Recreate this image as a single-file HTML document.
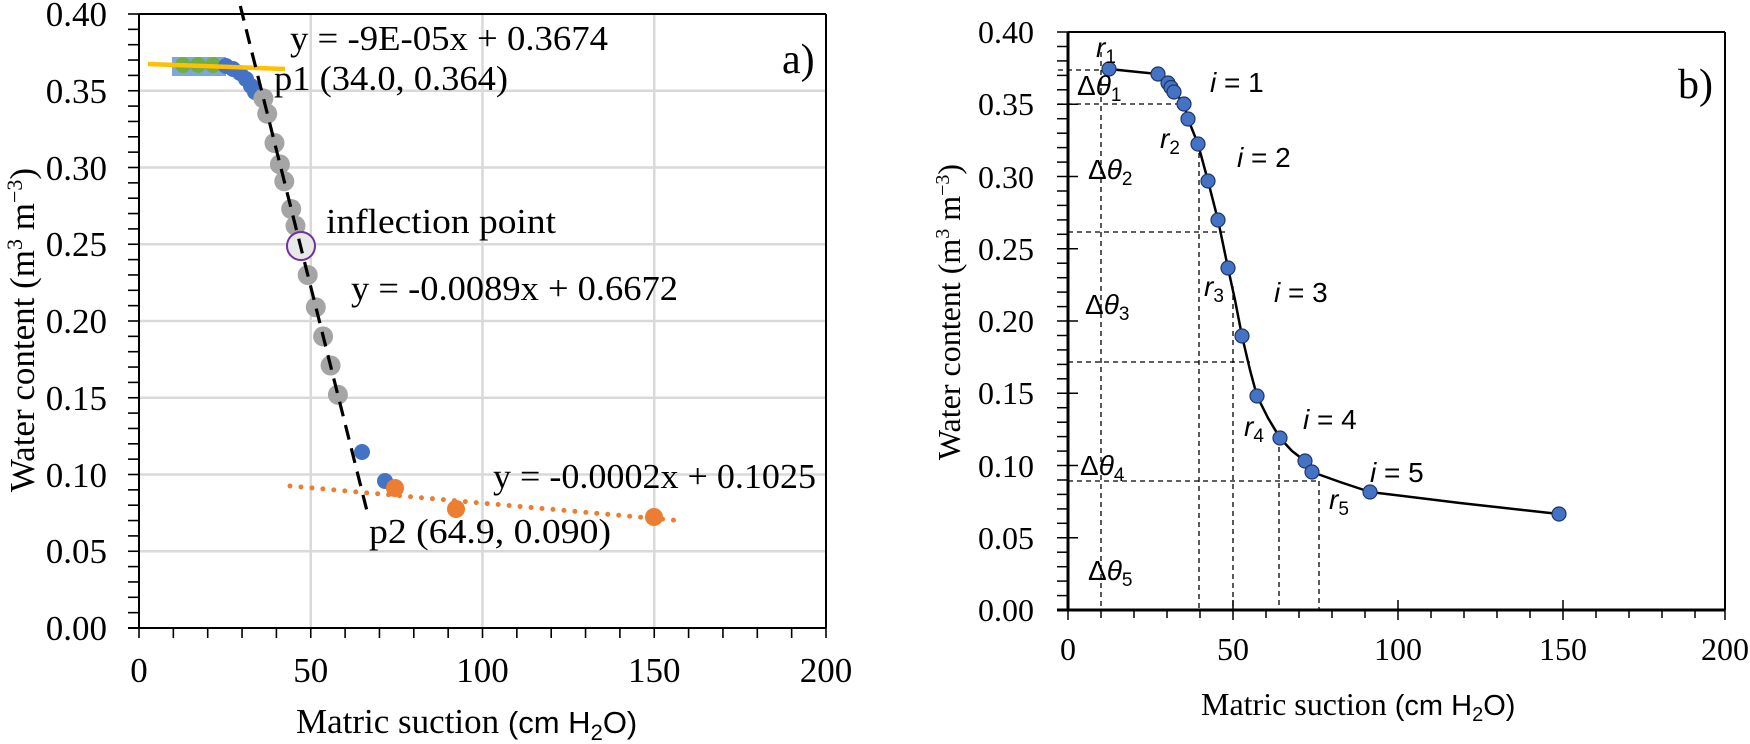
<!DOCTYPE html>
<html><head><meta charset="utf-8"><style>
html,body{margin:0;padding:0;background:#fff;}
svg{display:block;}
.s{font-family:"Liberation Serif",serif;fill:#000;}
.ss{font-family:"Liberation Sans",sans-serif;fill:#000;}
</style></head><body>
<svg width="1750" height="744" viewBox="0 0 1750 744" xmlns="http://www.w3.org/2000/svg">
<rect width="1750" height="744" fill="#fff"/>
<!-- ============ PANEL A ============ -->
<g stroke="#d9d9d9" stroke-width="2.5">
  <line x1="310.75" y1="14" x2="310.75" y2="628"/>
  <line x1="482.5" y1="14" x2="482.5" y2="628"/>
  <line x1="654.25" y1="14" x2="654.25" y2="628"/>
  <line x1="139" y1="90.75" x2="826" y2="90.75"/>
  <line x1="139" y1="167.5" x2="826" y2="167.5"/>
  <line x1="139" y1="244.25" x2="826" y2="244.25"/>
  <line x1="139" y1="321" x2="826" y2="321"/>
  <line x1="139" y1="397.75" x2="826" y2="397.75"/>
  <line x1="139" y1="474.5" x2="826" y2="474.5"/>
  <line x1="139" y1="551.25" x2="826" y2="551.25"/>
</g>
<g stroke="#000" stroke-width="2" fill="none">
  <line x1="139" y1="14" x2="826" y2="14"/>
  <line x1="826" y1="14" x2="826" y2="628"/>
  <line x1="139" y1="14" x2="139" y2="628"/>
  <line x1="128" y1="628" x2="826" y2="628"/>
</g>
<g stroke="#000" stroke-width="1.6">
  <line x1="128" y1="14" x2="139" y2="14"/><line x1="128" y1="29.35" x2="139" y2="29.35"/><line x1="128" y1="44.7" x2="139" y2="44.7"/><line x1="128" y1="60.05" x2="139" y2="60.05"/><line x1="128" y1="75.4" x2="139" y2="75.4"/>
  <line x1="128" y1="90.75" x2="139" y2="90.75"/><line x1="128" y1="106.1" x2="139" y2="106.1"/><line x1="128" y1="121.45" x2="139" y2="121.45"/><line x1="128" y1="136.8" x2="139" y2="136.8"/><line x1="128" y1="152.15" x2="139" y2="152.15"/>
  <line x1="128" y1="167.5" x2="139" y2="167.5"/><line x1="128" y1="182.85" x2="139" y2="182.85"/><line x1="128" y1="198.2" x2="139" y2="198.2"/><line x1="128" y1="213.55" x2="139" y2="213.55"/><line x1="128" y1="228.9" x2="139" y2="228.9"/>
  <line x1="128" y1="244.25" x2="139" y2="244.25"/><line x1="128" y1="259.6" x2="139" y2="259.6"/><line x1="128" y1="274.95" x2="139" y2="274.95"/><line x1="128" y1="290.3" x2="139" y2="290.3"/><line x1="128" y1="305.65" x2="139" y2="305.65"/>
  <line x1="128" y1="321" x2="139" y2="321"/><line x1="128" y1="336.35" x2="139" y2="336.35"/><line x1="128" y1="351.7" x2="139" y2="351.7"/><line x1="128" y1="367.05" x2="139" y2="367.05"/><line x1="128" y1="382.4" x2="139" y2="382.4"/>
  <line x1="128" y1="397.75" x2="139" y2="397.75"/><line x1="128" y1="413.1" x2="139" y2="413.1"/><line x1="128" y1="428.45" x2="139" y2="428.45"/><line x1="128" y1="443.8" x2="139" y2="443.8"/><line x1="128" y1="459.15" x2="139" y2="459.15"/>
  <line x1="128" y1="474.5" x2="139" y2="474.5"/><line x1="128" y1="489.85" x2="139" y2="489.85"/><line x1="128" y1="505.2" x2="139" y2="505.2"/><line x1="128" y1="520.55" x2="139" y2="520.55"/><line x1="128" y1="535.9" x2="139" y2="535.9"/>
  <line x1="128" y1="551.25" x2="139" y2="551.25"/><line x1="128" y1="566.6" x2="139" y2="566.6"/><line x1="128" y1="581.95" x2="139" y2="581.95"/><line x1="128" y1="597.3" x2="139" y2="597.3"/><line x1="128" y1="612.65" x2="139" y2="612.65"/>
</g>
<g stroke="#000" stroke-width="1.6">
  <line x1="139" y1="628" x2="139" y2="638"/><line x1="173.35" y1="628" x2="173.35" y2="638"/><line x1="207.7" y1="628" x2="207.7" y2="638"/><line x1="242.05" y1="628" x2="242.05" y2="638"/><line x1="276.4" y1="628" x2="276.4" y2="638"/>
  <line x1="310.75" y1="628" x2="310.75" y2="638"/><line x1="345.1" y1="628" x2="345.1" y2="638"/><line x1="379.45" y1="628" x2="379.45" y2="638"/><line x1="413.8" y1="628" x2="413.8" y2="638"/><line x1="448.15" y1="628" x2="448.15" y2="638"/>
  <line x1="482.5" y1="628" x2="482.5" y2="638"/><line x1="516.85" y1="628" x2="516.85" y2="638"/><line x1="551.2" y1="628" x2="551.2" y2="638"/><line x1="585.55" y1="628" x2="585.55" y2="638"/><line x1="619.9" y1="628" x2="619.9" y2="638"/>
  <line x1="654.25" y1="628" x2="654.25" y2="638"/><line x1="688.6" y1="628" x2="688.6" y2="638"/><line x1="722.95" y1="628" x2="722.95" y2="638"/><line x1="757.3" y1="628" x2="757.3" y2="638"/><line x1="791.65" y1="628" x2="791.65" y2="638"/><line x1="826" y1="628" x2="826" y2="638"/>
</g>
<g class="s" font-size="35" text-anchor="end">
  <text x="107" y="26">0.40</text><text x="107" y="103">0.35</text><text x="107" y="180">0.30</text><text x="107" y="256">0.25</text>
  <text x="107" y="333">0.20</text><text x="107" y="410">0.15</text><text x="107" y="487">0.10</text><text x="107" y="563">0.05</text><text x="107" y="640">0.00</text>
</g>
<g class="s" font-size="35" text-anchor="middle">
  <text x="139" y="682">0</text><text x="310.75" y="682">50</text><text x="482.5" y="682">100</text><text x="654.25" y="682">150</text><text x="826" y="682">200</text>
</g>
<text class="s" font-size="35" x="296" y="733">Matric suction  <tspan class="ss" font-size="31">(cm H</tspan><tspan class="ss" font-size="22" dy="7">2</tspan><tspan class="ss" font-size="31" dy="-7">O)</tspan></text>
<text class="s" font-size="35" transform="translate(34,330) rotate(-90)" text-anchor="middle">Water content (m<tspan font-size="22" dy="-12">3</tspan><tspan dy="12"> m</tspan><tspan font-size="22" dy="-12">−3</tspan><tspan dy="12">)</tspan></text>
<text class="s" font-size="42" x="782" y="73">a)</text>
<!-- data a -->
<rect x="172" y="57" width="54" height="19" fill="#7fa6dc"/>
<g fill="#70ad47"><circle cx="183" cy="65" r="8"/><circle cx="198" cy="65" r="8"/><circle cx="213" cy="65" r="8"/></g>
<g fill="#4472c4"><circle cx="226" cy="66" r="8"/><circle cx="233" cy="69" r="8"/><circle cx="240" cy="73" r="8"/><circle cx="246" cy="79" r="8"/><circle cx="251" cy="86" r="8"/><circle cx="255" cy="92" r="8"/>
<circle cx="362" cy="452" r="8"/><circle cx="385" cy="481" r="8"/></g>
<line x1="148" y1="64" x2="285" y2="69" stroke="#ffc000" stroke-width="4.5"/>
<g fill="#a5a5a5">
<circle cx="263.4" cy="98.4" r="10"/><circle cx="267.2" cy="113.8" r="10"/><circle cx="274.5" cy="143" r="10"/><circle cx="279.9" cy="164.4" r="10"/><circle cx="284.3" cy="181.3" r="10"/><circle cx="291.2" cy="209" r="10"/><circle cx="295.5" cy="225.8" r="10"/><circle cx="307.7" cy="275" r="10"/><circle cx="315.8" cy="307.2" r="10"/><circle cx="323.1" cy="336.4" r="10"/><circle cx="330.6" cy="365.5" r="10"/><circle cx="337.9" cy="394.7" r="10"/>
</g>
<circle cx="301" cy="246" r="14" fill="#e8e8e8" stroke="#7030a0" stroke-width="2"/>
<line x1="240.3" y1="6" x2="367.5" y2="513" stroke="#000" stroke-width="3.2" stroke-dasharray="15 9"/>
<line x1="290" y1="486" x2="683" y2="521" stroke="#ed7d31" stroke-width="5" stroke-linecap="round" stroke-dasharray="0 11"/>
<g fill="#ed7d31"><circle cx="395" cy="488" r="9"/><circle cx="456" cy="509" r="9"/><circle cx="654" cy="517" r="9"/></g>
<g class="s" font-size="35">
<text x="290" y="50" textLength="318" lengthAdjust="spacingAndGlyphs">y = -9E-05x + 0.3674</text>
<text x="274" y="90" textLength="234" lengthAdjust="spacingAndGlyphs">p1 (34.0, 0.364)</text>
<text x="326" y="233" textLength="230" lengthAdjust="spacingAndGlyphs">inflection point</text>
<text x="351" y="300" textLength="327" lengthAdjust="spacingAndGlyphs">y = -0.0089x + 0.6672</text>
<text x="493" y="488" textLength="323" lengthAdjust="spacingAndGlyphs">y = -0.0002x + 0.1025</text>
<text x="369" y="543" textLength="242" lengthAdjust="spacingAndGlyphs">p2 (64.9, 0.090)</text>
</g>
<!-- ============ PANEL B ============ -->
<g stroke="#000" stroke-width="1.3" stroke-dasharray="5 4" fill="none">
  <line x1="1058" y1="70" x2="1123" y2="70"/>
  <line x1="1058" y1="104" x2="1184" y2="104"/>
  <line x1="1068" y1="232" x2="1225" y2="232"/>
  <line x1="1068" y1="362" x2="1250" y2="362"/>
  <line x1="1068" y1="481" x2="1319" y2="481"/>
  <line x1="1101" y1="52" x2="1101" y2="610"/>
  <line x1="1199" y1="144" x2="1199" y2="610"/>
  <line x1="1233" y1="286" x2="1233" y2="610"/>
  <line x1="1279" y1="438" x2="1279" y2="610"/>
  <line x1="1319" y1="481" x2="1319" y2="610"/>
</g>
<g stroke="#000" fill="none">
  <line x1="1068" y1="32" x2="1725" y2="32" stroke-width="2"/>
  <line x1="1725" y1="32" x2="1725" y2="610" stroke-width="2"/>
  <line x1="1068" y1="32" x2="1068" y2="611" stroke-width="3"/>
  <line x1="1057" y1="610" x2="1725" y2="610" stroke-width="3"/>
</g>
<g stroke="#000" stroke-width="1.5">
  <line x1="1057" y1="32" x2="1078" y2="32"/><line x1="1057" y1="46.5" x2="1068" y2="46.5"/><line x1="1057" y1="60.9" x2="1068" y2="60.9"/><line x1="1057" y1="75.4" x2="1068" y2="75.4"/><line x1="1057" y1="89.8" x2="1068" y2="89.8"/>
  <line x1="1057" y1="104.3" x2="1078" y2="104.3"/><line x1="1057" y1="118.7" x2="1068" y2="118.7"/><line x1="1057" y1="133.2" x2="1068" y2="133.2"/><line x1="1057" y1="147.6" x2="1068" y2="147.6"/><line x1="1057" y1="162.1" x2="1068" y2="162.1"/>
  <line x1="1057" y1="176.5" x2="1078" y2="176.5"/><line x1="1057" y1="191" x2="1068" y2="191"/><line x1="1057" y1="205.4" x2="1068" y2="205.4"/><line x1="1057" y1="219.9" x2="1068" y2="219.9"/><line x1="1057" y1="234.3" x2="1068" y2="234.3"/>
  <line x1="1057" y1="248.8" x2="1078" y2="248.8"/><line x1="1057" y1="263.2" x2="1068" y2="263.2"/><line x1="1057" y1="277.7" x2="1068" y2="277.7"/><line x1="1057" y1="292.1" x2="1068" y2="292.1"/><line x1="1057" y1="306.6" x2="1068" y2="306.6"/>
  <line x1="1057" y1="321" x2="1078" y2="321"/><line x1="1057" y1="335.5" x2="1068" y2="335.5"/><line x1="1057" y1="349.9" x2="1068" y2="349.9"/><line x1="1057" y1="364.4" x2="1068" y2="364.4"/><line x1="1057" y1="378.8" x2="1068" y2="378.8"/>
  <line x1="1057" y1="393.3" x2="1078" y2="393.3"/><line x1="1057" y1="407.7" x2="1068" y2="407.7"/><line x1="1057" y1="422.2" x2="1068" y2="422.2"/><line x1="1057" y1="436.6" x2="1068" y2="436.6"/><line x1="1057" y1="451.1" x2="1068" y2="451.1"/>
  <line x1="1057" y1="465.5" x2="1078" y2="465.5"/><line x1="1057" y1="480" x2="1068" y2="480"/><line x1="1057" y1="494.4" x2="1068" y2="494.4"/><line x1="1057" y1="508.9" x2="1068" y2="508.9"/><line x1="1057" y1="523.3" x2="1068" y2="523.3"/>
  <line x1="1057" y1="537.8" x2="1078" y2="537.8"/><line x1="1057" y1="552.2" x2="1068" y2="552.2"/><line x1="1057" y1="566.7" x2="1068" y2="566.7"/><line x1="1057" y1="581.1" x2="1068" y2="581.1"/><line x1="1057" y1="595.6" x2="1068" y2="595.6"/>
</g>
<g stroke="#000" stroke-width="1.5">
  <line x1="1068" y1="610" x2="1068" y2="620"/><line x1="1101" y1="610" x2="1101" y2="618"/><line x1="1134" y1="610" x2="1134" y2="618"/><line x1="1167" y1="610" x2="1167" y2="618"/><line x1="1200" y1="610" x2="1200" y2="618"/>
  <line x1="1233" y1="600" x2="1233" y2="620"/><line x1="1266" y1="610" x2="1266" y2="618"/><line x1="1299" y1="610" x2="1299" y2="618"/><line x1="1332" y1="610" x2="1332" y2="618"/><line x1="1365" y1="610" x2="1365" y2="618"/>
  <line x1="1398" y1="600" x2="1398" y2="620"/><line x1="1431" y1="610" x2="1431" y2="618"/><line x1="1464" y1="610" x2="1464" y2="618"/><line x1="1497" y1="610" x2="1497" y2="618"/><line x1="1530" y1="610" x2="1530" y2="618"/>
  <line x1="1563" y1="600" x2="1563" y2="620"/><line x1="1596" y1="610" x2="1596" y2="618"/><line x1="1629" y1="610" x2="1629" y2="618"/><line x1="1662" y1="610" x2="1662" y2="618"/><line x1="1695" y1="610" x2="1695" y2="618"/><line x1="1725" y1="600" x2="1725" y2="620"/>
</g>
<g class="s" font-size="32" text-anchor="end">
  <text x="1034" y="43">0.40</text><text x="1034" y="115">0.35</text><text x="1034" y="188">0.30</text><text x="1034" y="260">0.25</text>
  <text x="1034" y="332">0.20</text><text x="1034" y="404">0.15</text><text x="1034" y="477">0.10</text><text x="1034" y="549">0.05</text><text x="1034" y="621">0.00</text>
</g>
<g class="s" font-size="32" text-anchor="middle">
  <text x="1068" y="660">0</text><text x="1233" y="660">50</text><text x="1398" y="660">100</text><text x="1563" y="660">150</text><text x="1725" y="660">200</text>
</g>
<text class="s" font-size="32" x="1201" y="715">Matric suction  <tspan class="ss" font-size="29">(cm H</tspan><tspan class="ss" font-size="20" dy="6">2</tspan><tspan class="ss" font-size="29" dy="-6">O)</tspan></text>
<text class="s" font-size="32" transform="translate(960,312) rotate(-90)" text-anchor="middle">Water content (m<tspan font-size="20" dy="-11">3</tspan><tspan dy="11"> m</tspan><tspan font-size="20" dy="-11">−3</tspan><tspan dy="11">)</tspan></text>
<text class="s" font-size="42" x="1678" y="98">b)</text>
<polyline fill="none" stroke="#000" stroke-width="2.5" stroke-linejoin="round" points="1109,69 1158,74 1165,79 1171,87 1177,95 1184,104 1188,119 1198,144 1208,181 1218,220 1228,268 1235,300 1242,336 1250,370 1257,396 1268,418 1280,438 1292,451 1305,461 1312,472 1340,482 1370,492 1460,503 1559,514"/>
<g fill="#4472c4" stroke="#1f3864" stroke-width="1.2">
<circle cx="1109" cy="69" r="7"/><circle cx="1158" cy="74" r="7"/><circle cx="1168" cy="83" r="7"/><circle cx="1171" cy="87.5" r="7"/><circle cx="1174" cy="92" r="7"/><circle cx="1184" cy="104" r="7"/><circle cx="1188" cy="119" r="7"/><circle cx="1198" cy="144" r="7"/><circle cx="1208" cy="181" r="7"/><circle cx="1218" cy="220" r="7"/><circle cx="1228" cy="268" r="7"/><circle cx="1242" cy="336" r="7"/><circle cx="1257" cy="396" r="7"/><circle cx="1280" cy="438" r="7"/><circle cx="1305" cy="461" r="7"/><circle cx="1312" cy="472" r="7"/><circle cx="1370" cy="492" r="7"/><circle cx="1559" cy="514" r="7"/>
</g>
<g class="ss" font-size="28">
<text x="1096" y="57" font-style="italic">r<tspan font-style="normal" font-size="19" dy="6">1</tspan></text>
<text x="1077" y="95">Δ<tspan font-style="italic">θ</tspan><tspan font-size="19" dy="6">1</tspan></text>
<text x="1210" y="92"><tspan font-style="italic">i</tspan> = 1</text>
<text x="1160" y="148" font-style="italic">r<tspan font-style="normal" font-size="19" dy="6">2</tspan></text>
<text x="1088" y="179">Δ<tspan font-style="italic">θ</tspan><tspan font-size="19" dy="6">2</tspan></text>
<text x="1237" y="167"><tspan font-style="italic">i</tspan> = 2</text>
<text x="1204" y="296" font-style="italic">r<tspan font-style="normal" font-size="19" dy="6">3</tspan></text>
<text x="1085" y="314">Δ<tspan font-style="italic">θ</tspan><tspan font-size="19" dy="6">3</tspan></text>
<text x="1274" y="302"><tspan font-style="italic">i</tspan> = 3</text>
<text x="1244" y="436" font-style="italic">r<tspan font-style="normal" font-size="19" dy="6">4</tspan></text>
<text x="1303" y="429"><tspan font-style="italic">i</tspan> =  4</text>
<text x="1080" y="475">Δ<tspan font-style="italic">θ</tspan><tspan font-size="19" dy="6">4</tspan></text>
<text x="1370" y="482"><tspan font-style="italic">i</tspan> = 5</text>
<text x="1329" y="509" font-style="italic">r<tspan font-style="normal" font-size="19" dy="6">5</tspan></text>
<text x="1088" y="580">Δ<tspan font-style="italic">θ</tspan><tspan font-size="19" dy="6">5</tspan></text>
</g>
</svg>
</body></html>
